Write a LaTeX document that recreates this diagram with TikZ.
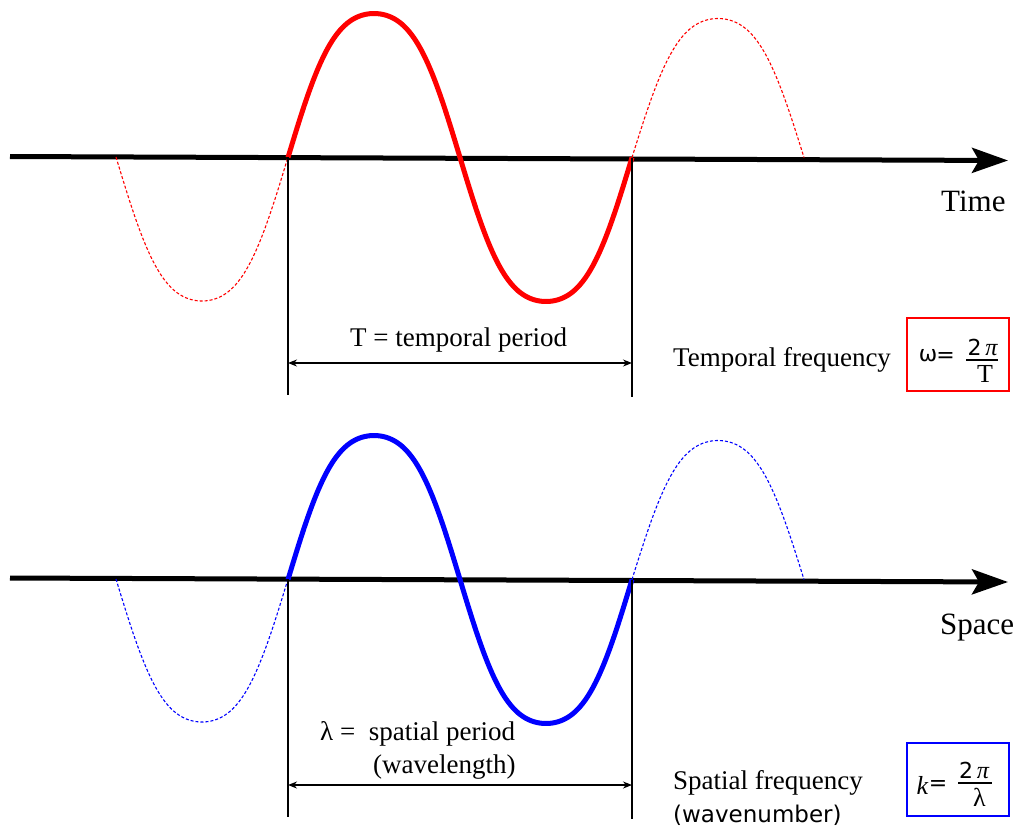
\documentclass[tikz,border=0pt]{standalone}
\usepackage{fontspec}
\setmainfont{Liberation Serif}
\newfontfamily\dv{DejaVu Sans}
\usetikzlibrary{arrows.meta}
\begin{document}
\begin{tikzpicture}[x=1pt,y=-1pt,
  axis/.style={line width=5pt, -{Stealth[length=36pt,width=25pt,inset=7pt]}},
  solidwave/.style={line width=5pt},
  dashwave/.style={line width=1.1pt, dash pattern=on 3pt off 2pt},
  guide/.style={line width=1.3pt},
  dim/.style={line width=1.3pt, {Stealth[length=9pt,width=7pt]}-{Stealth[length=9pt,width=7pt]}},
  lbl/.style={font=\fontsize{27}{30}\selectfont, inner sep=0pt},
  axlbl/.style={font=\fontsize{31}{34}\selectfont, inner sep=0pt},
  sanslbl/.style={font=\dv\fontsize{23}{26}\selectfont, inner sep=0pt},
  fsym/.style={font=\dv\fontsize{22}{26}\selectfont, inner sep=0pt},
  fser/.style={font=\fontsize{26}{30}\selectfont, inner sep=0pt},
  frbox/.style={line width=1.3pt, minimum width=102pt, minimum height=73pt, inner sep=0pt},
  declare function={wv(\t)=(sin(\t)+0.06*sin(3*\t))/0.94;}
]
\useasboundingbox (0,0) rectangle (1020,828);

% ---------- top: time ----------
\coordinate (ta) at (10,156.5);
\coordinate (tb) at (1008,160.5);
\draw[axis] (ta) -- (tb);
\draw[red, dashwave] plot[domain=116:288, samples=70, smooth] (\x, {157-144*wv((\x-288)/172*180)});
\draw[red, dashwave] plot[domain=632:804, samples=70, smooth] (\x, {157.5-139*wv((\x-288)/172*180)});
\draw[red, solidwave] plot[domain=288:632, samples=140, smooth] (\x, {157.5-144*wv((\x-288)/172*180)});

\coordinate (tg1) at (288,157);
\coordinate (tg1e) at (288,395);
\coordinate (tg2) at (632,158);
\coordinate (tg2e) at (632,397);
\draw[guide] (tg1) -- (tg1e);
\draw[guide] (tg2) -- (tg2e);
\coordinate (td1) at (288,363);
\coordinate (td2) at (632,363);
\draw[dim] (td1) -- (td2);

\node[lbl, anchor=base west] (tplabel) at (350,346.5) {T = temporal period};
\node[axlbl, anchor=base west] (timelabel) at (941,211.5) {Time};
\node[lbl, anchor=base west] (tflabel) at (673,366.5) {Temporal frequency};

\node[draw=red, frbox] (wbox) at (958,354.5) {};
\node[fsym] (wsym) at (928,356) {ω};
\node[fsym] (weq) at (945.5,357) {=};
\node[fsym] (wnum) at (982.5,347.5) {2\,{\fontspec{Liberation Serif}[Scale=1.1]\itshape π}};
\node[fser] (wden) at (985,373.5) {T};
\draw[line width=1.6pt] (966,360) -- (998,360);

% ---------- bottom: space ----------
\coordinate (sa) at (10,578);
\coordinate (sb) at (1008,582);
\draw[axis] (sa) -- (sb);
\draw[blue, dashwave] plot[domain=116:288, samples=70, smooth] (\x, {579-143*wv((\x-288)/172*180)});
\draw[blue, dashwave] plot[domain=632:804, samples=70, smooth] (\x, {579.5-139*wv((\x-288)/172*180)});
\draw[blue, solidwave] plot[domain=288:632, samples=140, smooth] (\x, {579.5-144*wv((\x-288)/172*180)});

\coordinate (sg1) at (288,579);
\coordinate (sg1e) at (288,817);
\coordinate (sg2) at (632,580);
\coordinate (sg2e) at (632,819);
\draw[guide] (sg1) -- (sg1e);
\draw[guide] (sg2) -- (sg2e);
\coordinate (sd1) at (288,785);
\coordinate (sd2) at (632,785);
\draw[dim] (sd1) -- (sd2);

\node[lbl, anchor=base west] (splabel) at (320,740) {λ =\ \ spatial period};
\node[lbl, anchor=base west] (wllabel) at (373,773) {(wavelength)};
\node[axlbl, anchor=base west] (spacelabel) at (940,634) {Space};
\node[lbl, anchor=base west] (sflabel) at (673,789) {Spatial frequency};
\node[sanslbl, anchor=base west] (wnlabel) at (673,822) {(wavenumber)};

\node[draw=blue, frbox] (kbox) at (958,779.5) {};
\node[fser] (ksym) at (922.5,785) {\itshape k};
\node[fsym] (keq) at (938,785) {=};
\node[fsym] (knum) at (974,770) {2\,{\fontspec{Liberation Serif}[Scale=1.1]\itshape π}};
\node[fser] (kden) at (979.5,797.5) {λ};
\draw[line width=1.6pt] (958,783) -- (992,783);
\end{tikzpicture}
\end{document}
